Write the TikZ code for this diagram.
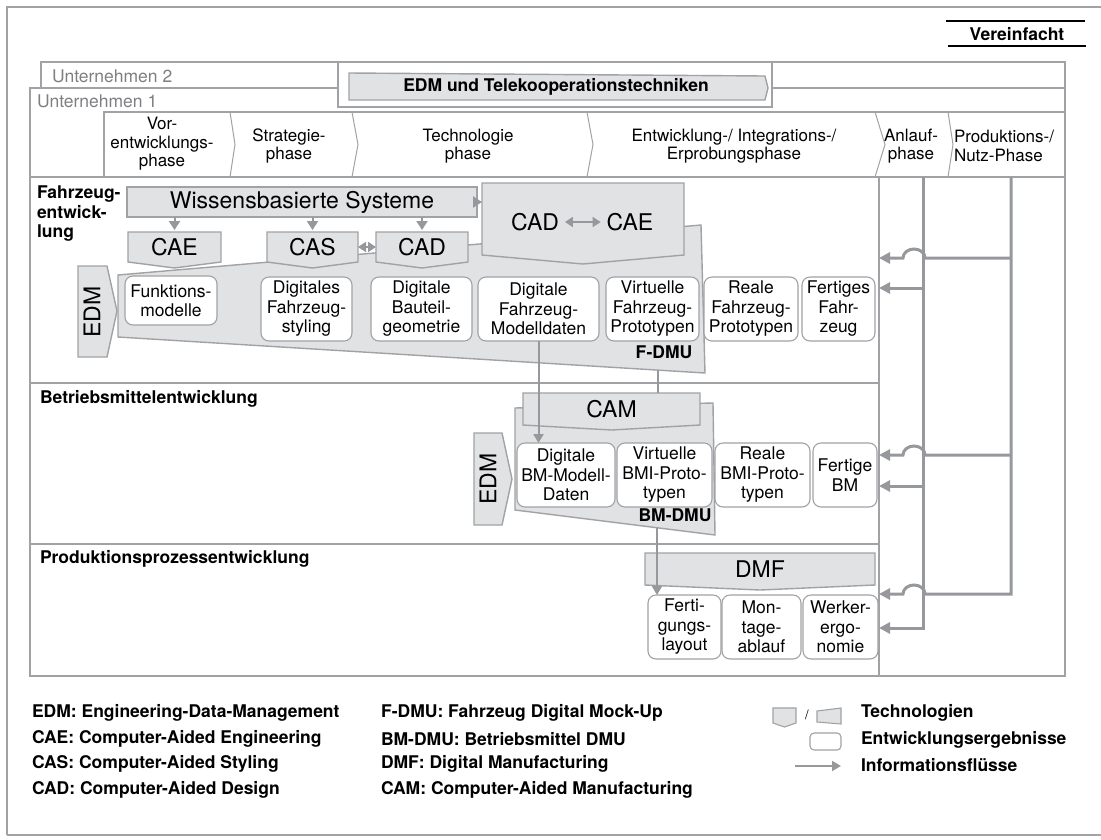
\documentclass[tikz,border=0pt]{standalone}
\usepackage{fontspec}
\setmainfont{TeX Gyre Heros}
\usetikzlibrary{arrows.meta}
\definecolor{rulegray}{RGB}{160,162,165}
\definecolor{flowgray}{RGB}{150,152,156}
\definecolor{techfill}{RGB}{225,226,228}
\definecolor{labelgray}{RGB}{125,127,130}
\pgfdeclarelayer{trapezoids}
\pgfdeclarelayer{techlayer}
\pgfsetlayers{trapezoids,techlayer,main}

% technology box: rectangle of the node with a shallow downward point
\newcommand\pentshape[2]{%
  \begin{pgfonlayer}{techlayer}
    \draw[techshape] (#1.north west) -- (#1.north east) -- (#1.south east)
      -- ([yshift=-#2pt]#1.south) -- (#1.south west) -- cycle;
  \end{pgfonlayer}}

\begin{document}
\begin{tikzpicture}[x=1pt, y=-1pt,
  every node/.style={inner sep=0pt, outer sep=0pt, font=\fontsize{17.5}{19.5}\selectfont},
  boldtext/.style={font=\fontsize{17.5}{19.5}\selectfont\bfseries},
  frameline/.style={draw=rulegray, line width=1.2pt},
  phaseline/.style={draw=rulegray, line width=1pt},
  techshape/.style={draw=rulegray, fill=techfill, line width=1.4pt, line join=miter},
  techlabel/.style={font=\fontsize{23}{26}\selectfont},
  result/.style={draw=rulegray, fill=white, line width=1.1pt, rounded corners=8pt, align=center},
  phasetext/.style={align=center, font=\fontsize{17}{18.5}\selectfont},
  flowthin/.style={draw=flowgray, line width=2pt, -{Triangle[length=9pt,width=10pt]}},
  flowsmall/.style={draw=flowgray, line width=2pt, -{Triangle[length=9pt,width=11pt]}},
  flowboth/.style={draw=flowgray, line width=1.8pt, {Triangle[length=8pt,width=10pt]}-{Triangle[length=8pt,width=10pt]}},
  conn/.style={draw=flowgray, line width=2pt},
  flowthick/.style={draw=flowgray, line width=3pt, -{Triangle[length=11pt,width=11pt]}},
]
\useasboundingbox (0,0) rectangle (1101,839);

% outer frame
\draw[frameline] (1101,7) -- (7,7) -- (7,835);
\draw[draw=rulegray, line width=2.2pt] (7,835) -- (1101,835);

% "Vereinfacht" tag
\draw[line width=2pt] (946,21) -- (1085,21) (948,46) -- (1086,46);
\node[boldtext] (verein) at (1017,34) {Vereinfacht};

% companies
\draw[frameline] (41,88) -- (41,62) -- (1065,62) -- (1065,88);
\node[anchor=west, text=labelgray] (u2) at (52,76) {Unternehmen 2};
\draw[frameline] (30,88) rectangle (1065,676);
\node[anchor=west, text=labelgray] (u1) at (37,101) {Unternehmen 1};

% EDM and tele-cooperation band
\draw[frameline, fill=white] (338,62) rectangle (772,107);
\draw[techshape] (349,73) -- (765,76) -- (768,88) -- (765,100) -- (349,100) -- cycle;
\node[boldtext] (edmtele) at (556,87) {EDM und Telekooperationstechniken};

% phase bar
\draw[frameline] (104,177) -- (104,112) -- (1065,112);
\draw[frameline] (30,177) -- (1065,177);
\foreach \a/\b in {230/235,352/358,587/593,875/885,948/953}
  \draw[phaseline] (\a,112) -- (\b,144.5) -- (\a,177);
\node[phasetext] (ph1) at (162,144) {Vor-\\entwicklungs-\\phase};
\node[phasetext] (ph2) at (289,146) {Strategie-\\phase};
\node[phasetext] (ph3) at (468,146) {Technologie\\phase};
\node[phasetext] (ph4) at (734,146) {Entwicklung-/ Integrations-/\\Erprobungsphase};
\node[phasetext] (ph5) at (911,146) {Anlauf-\\phase};
\node[phasetext, align=left, anchor=west] (ph6) at (954,146) {Produktions-/\\Nutz-Phase};

% swimlanes
\draw[frameline] (30,383) -- (879,383) (30,544) -- (879,544) (879,177) -- (879,676);
\node[boldtext, anchor=north west, align=left] (laneF) at (37,186) {Fahrzeug-\\entwick-\\lung};
\node[boldtext, anchor=west] (laneB) at (40,399) {Betriebsmittelentwicklung};
\node[boldtext, anchor=west] (laneP) at (40,559) {Produktionsprozessentwicklung};

% digital mock-up areas
\begin{pgfonlayer}{trapezoids}
  \draw[techshape] (118,275) -- (701,225) -- (705,373) -- (118,337) -- cycle;
  \draw[techshape] (515,408) -- (713,403) -- (715,535) -- (515,510) -- cycle;
\end{pgfonlayer}
\node[boldtext] (fdmu) at (664,352) {F-DMU};
\node[boldtext] (bmdmu) at (675,515) {BM-DMU};
\coordinate (fdmuOut) at (658,370);
\coordinate (bmdmuOut) at (657,528);

% technologies
\node[techlabel, minimum width=350pt, minimum height=30pt] (ws) at (302,202) {Wissensbasierte Systeme};
\begin{pgfonlayer}{techlayer}
  \draw[techshape] (ws.north west) rectangle (ws.south east);
\end{pgfonlayer}
\node[techlabel, minimum width=93pt, minimum height=30pt] (cae) at (174.5,247) {CAE};
\pentshape{cae}{6}
\node[techlabel, minimum width=91pt, minimum height=30pt] (cas) at (312.5,247) {CAS};
\pentshape{cas}{6}
\node[techlabel, minimum width=92pt, minimum height=30pt] (cad) at (422,247) {CAD};
\pentshape{cad}{6}
\node[minimum width=202pt, minimum height=72pt] (cadcae) at (583,219) {};
\pentshape{cadcae}{9}
\node[techlabel] (cadA) at (535,222) {CAD};
\node[techlabel] (caeA) at (630,222) {CAE};
\node[techlabel, minimum width=177pt, minimum height=32pt] (cam) at (611.5,409) {CAM};
\pentshape{cam}{5}
\node[techlabel, minimum width=230pt, minimum height=32pt] (dmf) at (760,569) {DMF};
\pentshape{dmf}{5}

% EDM arrows
\begin{pgfonlayer}{techlayer}
  \draw[techshape] (78,266) -- (107,266) -- (117,311) -- (107,357) -- (78,357) -- cycle;
  \draw[techshape] (474,433) -- (502,433) -- (512,479) -- (502,525) -- (474,525) -- cycle;
\end{pgfonlayer}
\node[techlabel, rotate=90] (edmA) at (92,312) {EDM};
\node[techlabel, rotate=90] (edmB) at (488,479) {EDM};

% development results
\node[result, minimum width=92pt, minimum height=49pt] (funk) at (171,300.5) {Funktions-\\modelle};
\node[result, minimum width=91pt, minimum height=64pt] (styl) at (306.5,309) {Digitales\\Fahrzeug-\\styling};
\node[result, minimum width=101pt, minimum height=64pt] (bauteil) at (421.5,309) {Digitale\\Bauteil-\\geometrie};
\node[result, minimum width=121pt, minimum height=64pt] (modell) at (538.5,309) {Digitale\\Fahrzeug-\\Modelldaten};
\node[result, minimum width=93pt, minimum height=64pt] (virtF) at (652.5,309) {Virtuelle\\Fahrzeug-\\Prototypen};
\node[result, minimum width=94pt, minimum height=64pt] (realF) at (751,309) {Reale\\Fahrzeug-\\Prototypen};
\node[result, minimum width=73pt, minimum height=64pt] (fertF) at (838.5,309) {Fertiges\\Fahr-\\zeug};

\node[result, minimum width=98pt, minimum height=64pt] (dbm) at (566,475) {Digitale\\BM-Modell-\\Daten};
\node[result, minimum width=95pt, minimum height=64pt] (vbm) at (664.5,475) {Virtuelle\\BMI-Proto-\\typen};
\node[result, minimum width=95pt, minimum height=64pt] (rbm) at (762.5,475) {Reale\\BMI-Proto-\\typen};
\node[result, minimum width=64pt, minimum height=64pt] (fbm) at (845,475) {Fertige\\BM};

\node[result, minimum width=73pt, minimum height=64pt] (fert) at (684.5,627) {Ferti-\\gungs-\\layout};
\node[result, minimum width=79pt, minimum height=64pt] (mont) at (761.5,627) {Mon-\\tage-\\ablauf};
\node[result, minimum width=75pt, minimum height=64pt] (werk) at (840.5,627) {Werker-\\ergo-\\nomie};

% information flows inside the lanes
\draw[flowsmall] (ws.south -| cae.north) -- ([yshift=2pt]cae.north);
\draw[flowsmall] (ws.south -| cas.north) -- ([yshift=2pt]cas.north);
\draw[flowsmall] (ws.south -| cad.north) -- ([yshift=2pt]cad.north);
\draw[flowsmall] (ws.east) -- (ws.east -| cadcae.west);
\draw[flowboth] (cas.east) -- (cad.west);
\draw[flowboth] ([xshift=6pt]cadA.east) -- ([xshift=-6pt]caeA.west);
\draw[flowthin] (modell.south) -- (modell.south |- dbm.north);
\draw[conn] (fdmuOut) -- (fdmuOut |- cam.north);
\draw[flowthin] (bmdmuOut) -- (bmdmuOut |- fert.north);

% feedback from the later phases
\coordinate (colA) at (923,177);
\coordinate (colB) at (1011,177);
\coordinate (tF1) at (879,258);
\coordinate (tF2) at (879,288);
\coordinate (tB1) at (879,455);
\coordinate (tB2) at (879,486);
\coordinate (tP1) at (879,594);
\coordinate (tP2) at (879,628);
\draw[flowthick] (colA) |- (tP2);
\draw[flowthick] (colB) |- (925,594) arc[start angle=0, end angle=180, x radius=11pt, y radius=9pt] -- (tP1);
\draw[flowthick] (colB |- tF1) -- (925,258) arc[start angle=0, end angle=180, x radius=11pt, y radius=9pt] -- (tF1);
\draw[flowthick] (colB |- tB1) -- (925,455) arc[start angle=0, end angle=180, x radius=11pt, y radius=9pt] -- (tB1);
\draw[flowthick] (colA |- tF2) -- (tF2);
\draw[flowthick] (colA |- tB2) -- (tB2);

% legend
\node[boldtext, anchor=west] (lg1) at (32,713) {EDM: Engineering-Data-Management};
\node[boldtext, anchor=west] (lg2) at (32,739) {CAE: Computer-Aided Engineering};
\node[boldtext, anchor=west] (lg3) at (32,764) {CAS: Computer-Aided Styling};
\node[boldtext, anchor=west] (lg4) at (32,790) {CAD: Computer-Aided Design};
\node[boldtext, anchor=west] (lg5) at (381,713) {F-DMU: Fahrzeug Digital Mock-Up};
\node[boldtext, anchor=west] (lg6) at (381,739) {BM-DMU: Betriebsmittel DMU};
\node[boldtext, anchor=west] (lg7) at (381,764) {DMF: Digital Manufacturing};
\node[boldtext, anchor=west] (lg8) at (381,790) {CAM: Computer-Aided Manufacturing};
\draw[techshape, line width=1.1pt] (773,708) -- (796,708) -- (796,723) -- (784.5,727) -- (773,723) -- cycle;
\node[font=\fontsize{13}{14}\selectfont] (lgslash) at (807,715) {/};
\draw[techshape, line width=1.1pt] (817,711) -- (841,708) -- (841,724) -- (817,722) -- cycle;
\node[result, minimum width=31pt, minimum height=17pt, rounded corners=4pt] (lgres) at (825.5,741.5) {};
\coordinate (lgA) at (795,766);
\coordinate (lgB) at (841,766);
\draw[flowthin] (lgA) -- (lgB);
\node[boldtext, anchor=west] (lg9) at (861,713) {Technologien};
\node[boldtext, anchor=west] (lg10) at (861,740) {Entwicklungsergebnisse};
\node[boldtext, anchor=west] (lg11) at (861,765) {Informationsflüsse};
\end{tikzpicture}
\end{document}
